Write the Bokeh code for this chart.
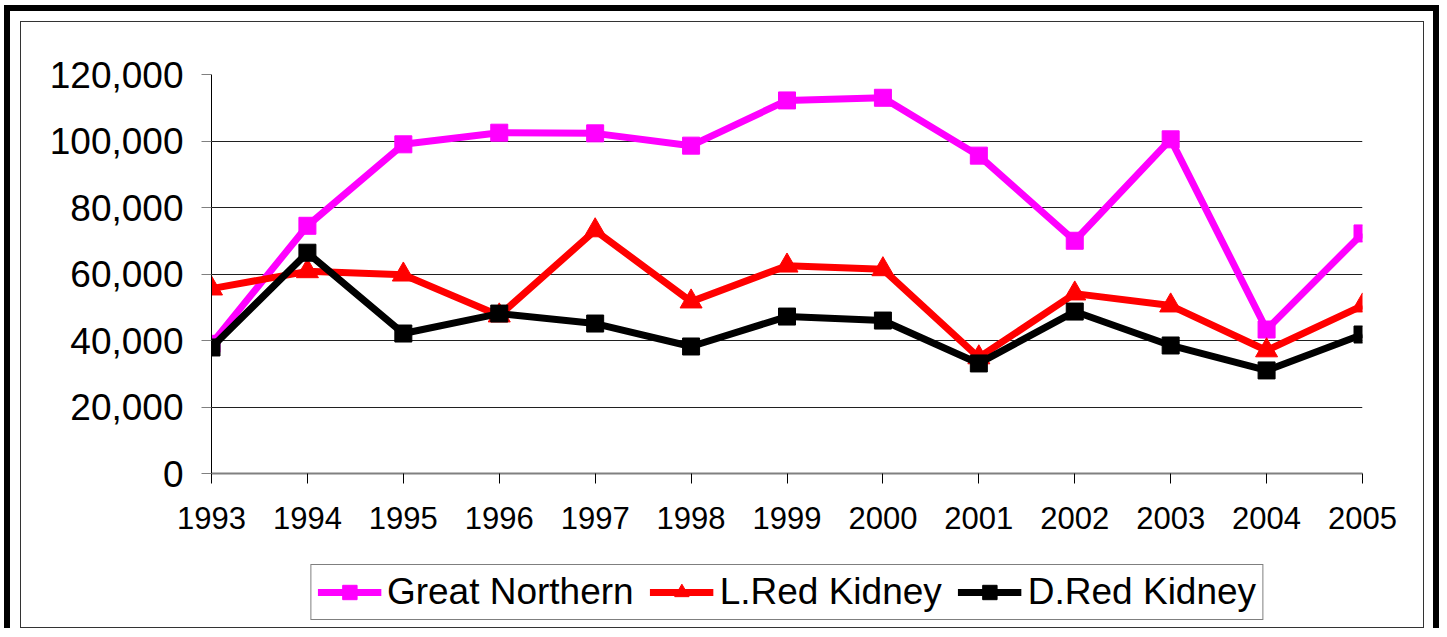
from bokeh.plotting import figure
from bokeh.models import Range1d, FixedTicker, NumeralTickFormatter, Legend, LegendItem
from bokeh.layouts import column
from bokeh.embed import file_html
from bokeh.resources import INLINE

years = [1993, 1994, 1995, 1996, 1997, 1998, 1999, 2000, 2001, 2002, 2003, 2004, 2005]
great_northern = [39000, 74500, 99000, 102500, 102300, 98600, 112200, 113000, 95600, 70000, 100500, 43300, 72200]
l_red_kidney = [55600, 60800, 59800, 47500, 73100, 51700, 62500, 61400, 34900, 54100, 50500, 37000, 50500]
d_red_kidney = [37900, 66400, 42100, 48100, 45100, 38200, 47200, 46000, 33100, 48700, 38500, 31000, 41800]
y_ticks = [0, 20000, 40000, 60000, 80000, 100000, 120000]
series_names = ["Great Northern", "L.Red Kidney", "D.Red Kidney"]
series_colors = ["#FF00FF", "#FF0000", "black"]
series_markers = ["square", "triangle", "square"]
series_values = [great_northern, l_red_kidney, d_red_kidney]

FONT = "Liberation Sans"

p = figure(frame_width=1151, frame_height=399, output_backend="svg", toolbar_location=None,
           x_range=Range1d(1993, 2005), y_range=Range1d(0, 120000),
           min_border_left=190, min_border_top=52, min_border_right=61, min_border_bottom=75)
p.outline_line_color = None
p.background_fill_color = "white"
p.border_fill_color = "white"
p.xgrid.visible = False
p.ygrid.grid_line_color = "#202020"
p.ygrid.grid_line_width = 1
p.ygrid.ticker = FixedTicker(ticks=y_ticks)

p.yaxis.ticker = FixedTicker(ticks=y_ticks)
p.yaxis.formatter = NumeralTickFormatter(format="0,0")
p.yaxis.axis_line_color = "black"
p.yaxis.major_tick_line_color = "#808080"
p.yaxis.major_tick_out = 10
p.yaxis.major_tick_in = 0
p.yaxis.minor_tick_line_color = None
p.yaxis.major_label_text_font = FONT
p.yaxis.major_label_text_font_size = "37px"
p.yaxis.major_label_text_color = "black"
p.yaxis.major_label_standoff = 18

p.xaxis.ticker = FixedTicker(ticks=years)
p.xaxis.axis_line_color = "#808080"
p.xaxis.axis_line_width = 2
p.xaxis.major_tick_line_color = "black"
p.xaxis.major_tick_out = 10
p.xaxis.major_tick_in = 0
p.xaxis.minor_tick_line_color = None
p.xaxis.major_label_text_font = FONT
p.xaxis.major_label_text_font_size = "31px"
p.xaxis.major_label_text_color = "black"
p.xaxis.major_label_standoff = 23

for vals, col, mk in zip(series_values, series_colors, series_markers):
    p.line(years, vals, line_color=col, line_width=7)
    p.scatter(years, vals, marker=mk, size=22 if mk == "triangle" else 17,
              fill_color=col, line_color=col)

# Legend strip below the chart (separate figure so the legend is not clipped).
# Its renderers use the same data, which lies outside this strip's ranges.
pl = figure(frame_width=1151, frame_height=79, output_backend="svg", toolbar_location=None,
            x_range=Range1d(0, 1), y_range=Range1d(0, 1),
            x_axis_location=None, y_axis_location=None,
            min_border_left=190, min_border_right=61, min_border_top=0, min_border_bottom=0)
pl.outline_line_color = None
pl.grid.visible = False
pl.background_fill_color = "white"
pl.border_fill_color = "white"

items = []
for name, vals, col, mk in zip(series_names, series_values, series_colors, series_markers):
    lr = pl.line(years, vals, line_color=col, line_width=7)
    sr = pl.scatter(years, vals, marker=mk, size=17 if mk == "triangle" else 14,
                    fill_color=col, line_color=col)
    items.append(LegendItem(label=name, renderers=[lr, sr]))

legend = Legend(items=items, orientation="horizontal", location="bottom_center")
legend.label_text_font = FONT
legend.label_text_font_size = "37px"
legend.label_text_color = "black"
legend.glyph_width = 64
legend.glyph_height = 36
legend.label_standoff = 6
legend.spacing = 16
legend.padding = 6
legend.margin = 7
legend.border_line_color = "black"
legend.border_line_width = 1
legend.background_fill_color = "white"
legend.background_fill_alpha = 1.0
pl.add_layout(legend)

inner = column(p, pl, spacing=0, styles={"border": "1px solid #333333"})
outer = column(inner, styles={"margin-left": "4px", "margin-top": "5px",
                              "border-left": "6px solid black", "border-right": "6px solid black",
                              "border-top": "6px solid black", "border-bottom": "none",
                              "padding": "10px 9px 0px 10px", "background": "white"})

open("out.html", "w").write(file_html(outer, INLINE))
